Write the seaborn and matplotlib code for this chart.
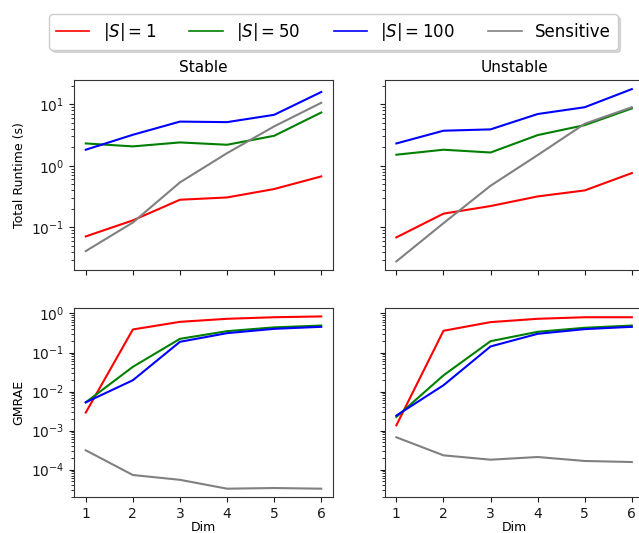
import numpy as np
import pandas as pd
import seaborn as sns
import matplotlib
matplotlib.use("Agg")
import matplotlib.pyplot as plt
from matplotlib.lines import Line2D
from matplotlib.ticker import LogLocator, NullFormatter

dims = [1, 2, 3, 4, 5, 6]
series = ["$|S| = 1$", "$|S| = 50$", "$|S| = 100$", "Sensitive"]
colors = ["red", "green", "blue", "gray"]

# Total runtime (s)
rt_stable_s1 = [0.0714, 0.13, 0.281, 0.306, 0.419, 0.671]
rt_stable_s50 = [2.3, 2.06, 2.39, 2.19, 3.06, 7.3]
rt_stable_s100 = [1.82, 3.18, 5.2, 5.1, 6.7, 15.7]
rt_stable_sens = [0.0413, 0.12, 0.537, 1.6, 4.35, 10.5]

rt_unstable_s1 = [0.0689, 0.167, 0.222, 0.318, 0.398, 0.76]
rt_unstable_s50 = [1.51, 1.82, 1.64, 3.14, 4.56, 8.5]
rt_unstable_s100 = [2.3, 3.7, 3.89, 6.9, 8.9, 17.5]
rt_unstable_sens = [0.0281, 0.117, 0.474, 1.49, 4.8, 8.9]

# GMRAE
gm_stable_s1 = [0.0029, 0.389, 0.61, 0.73, 0.8, 0.84]
gm_stable_s50 = [0.0053, 0.043, 0.224, 0.352, 0.44, 0.49]
gm_stable_s100 = [0.0053, 0.0195, 0.188, 0.313, 0.404, 0.455]
gm_stable_sens = [3.13e-4, 7.3e-5, 5.5e-5, 3.26e-5, 3.39e-5, 3.26e-5]

gm_unstable_s1 = [0.00137, 0.36, 0.6, 0.73, 0.8, 0.8]
gm_unstable_s50 = [0.00224, 0.026, 0.195, 0.339, 0.43, 0.49]
gm_unstable_s100 = [0.00243, 0.0145, 0.143, 0.301, 0.397, 0.455]
gm_unstable_sens = [6.75e-4, 2.33e-4, 1.8e-4, 2.11e-4, 1.67e-4, 1.57e-4]

panels = {
    ("Runtime", "Stable"): [rt_stable_s1, rt_stable_s50, rt_stable_s100, rt_stable_sens],
    ("Runtime", "Unstable"): [rt_unstable_s1, rt_unstable_s50, rt_unstable_s100, rt_unstable_sens],
    ("GMRAE", "Stable"): [gm_stable_s1, gm_stable_s50, gm_stable_s100, gm_stable_sens],
    ("GMRAE", "Unstable"): [gm_unstable_s1, gm_unstable_s50, gm_unstable_s100, gm_unstable_sens],
}

rows = []
for (metric, stab), vals in panels.items():
    for name, v in zip(series, vals):
        for d, y in zip(dims, v):
            rows.append({"metric": metric, "stability": stab, "series": name, "Dim": d, "value": y})
df = pd.DataFrame(rows)

plt.rcParams["font.family"] = ["DejaVu Sans"]
plt.rcParams["axes.edgecolor"] = "0.2"

fig = plt.figure(figsize=(6.39, 5.33), dpi=100)
W = 259 / 639
lefts = [74 / 639, 384.6 / 639]
bottoms = [1 - 270 / 533, 1 - 497.3 / 533]
H = 189.5 / 533
axes = [[None, None], [None, None]]
for r in range(2):
    for c in range(2):
        kw = {}
        if r == 1:
            kw["sharex"] = axes[0][c]
        if c == 1:
            kw["sharey"] = axes[r][0]
        axes[r][c] = fig.add_axes([lefts[c], bottoms[r], W, H], **kw)
for r in range(2):
    axes[r][0].set_yscale("log")

metrics = ["Runtime", "GMRAE"]
stabs = ["Stable", "Unstable"]
palette = dict(zip(series, colors))
for r, m in enumerate(metrics):
    for c, s in enumerate(stabs):
        ax = axes[r][c]
        sub = df[(df.metric == m) & (df.stability == s)]
        sns.lineplot(data=sub, x="Dim", y="value", hue="series", hue_order=series,
                     palette=palette, ax=ax, legend=False, linewidth=1.5)
        ax.set_xlabel("")
        ax.set_ylabel("")
        if r == 0:
            ax.set_title(s, fontsize=11)
        else:
            ax.set_xlabel("Dim", fontsize=9, labelpad=0)

for r in range(2):
    for c in range(2):
        ax = axes[r][c]
        ax.yaxis.set_major_locator(LogLocator(base=10, numticks=20))
        ax.yaxis.set_minor_locator(LogLocator(base=10, subs=np.arange(2, 10), numticks=200))
        ax.yaxis.set_minor_formatter(NullFormatter())
        ax.tick_params(which="major", labelsize=10, colors="0.1", length=3.5, width=0.8)
        ax.tick_params(which="minor", colors="0.2", length=2.3, width=0.7)
        for sp in ax.spines.values():
            sp.set_color("0.2")
        if r == 0:
            ax.tick_params(labelbottom=False)
        if c == 1:
            ax.tick_params(labelleft=False)

axes[0][0].set_xticks(dims)
axes[0][0].set_ylabel("Total Runtime (s)", fontsize=9)
axes[1][0].set_ylabel("GMRAE", fontsize=9)

handles = [Line2D([0], [0], color=col, lw=1.2) for col in colors]
fig.legend(handles, series, loc="upper center", bbox_to_anchor=(0.522, 0.989),
           ncol=4, fontsize=12, shadow={"color": "0.72"}, frameon=True, columnspacing=2.0)

fig.savefig("out.png", dpi=100)
